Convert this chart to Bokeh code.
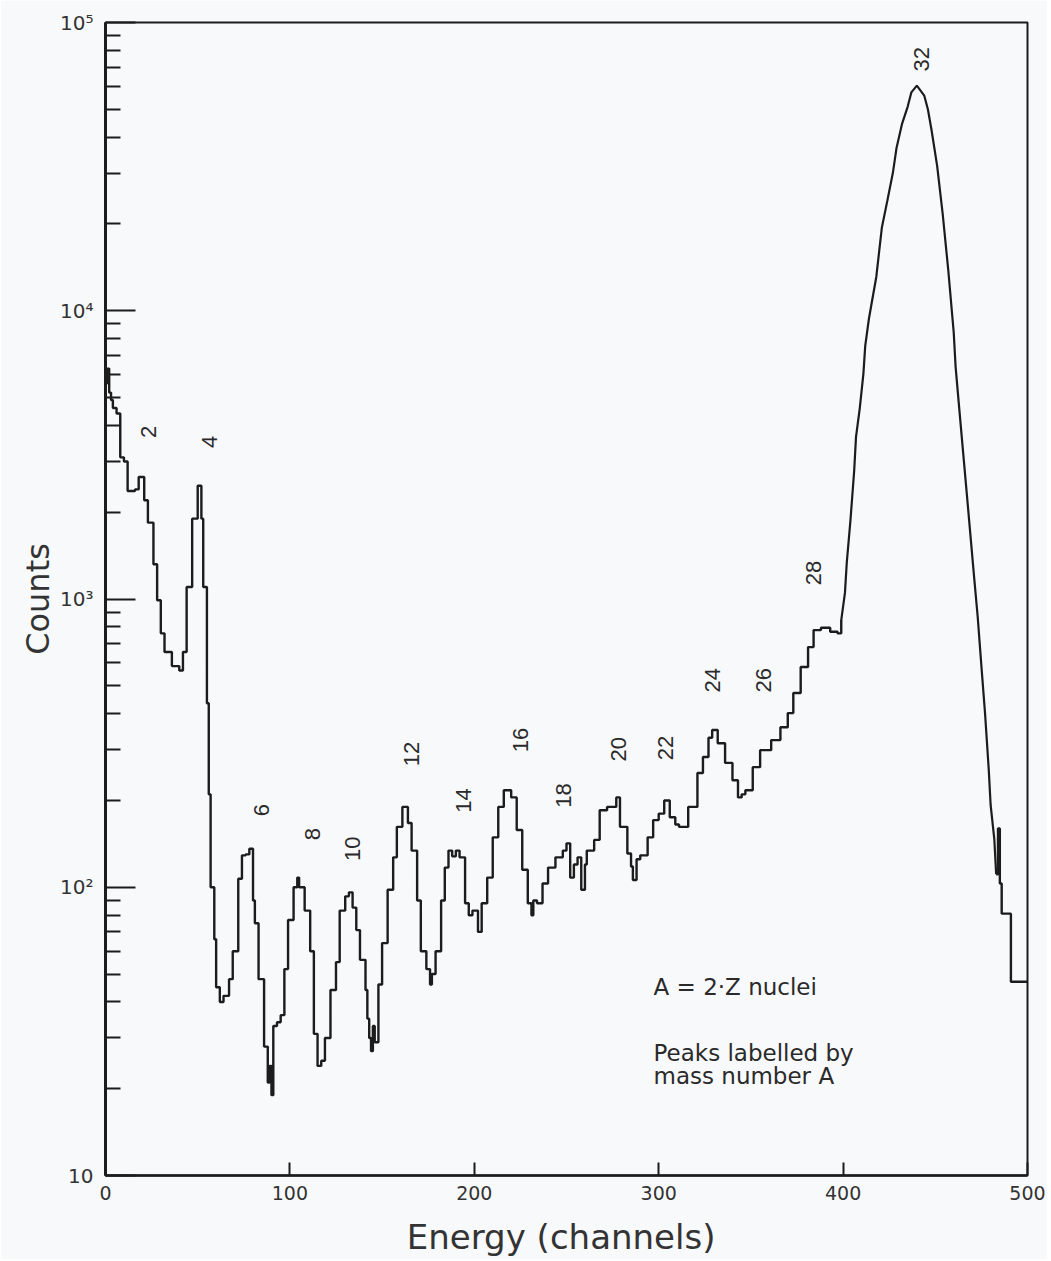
import math
from bokeh.plotting import figure
from bokeh.models import Range1d, FixedTicker, Label, Title
from bokeh.core.properties import value
from bokeh.embed import file_html
from bokeh.resources import INLINE

# ---- spectrum (channel, counts) ----
channels = [0, 1, 2, 3, 4, 6, 8, 10, 12, 16, 18, 21, 23, 26, 28, 30, 32, 36, 40, 42,
            44, 47, 50, 52, 53, 55, 56, 57, 59, 60, 62, 64, 67, 69, 72, 74, 76, 78, 80, 81,
            83, 86, 88, 89, 90, 91, 93, 95, 97, 99, 102, 104, 105, 108, 111, 113, 115, 117, 119, 122,
            125, 127, 130, 132, 134, 136, 138, 141, 142, 143, 144, 145, 146, 148, 150, 153, 156, 158, 161, 164,
            166, 169, 171, 174, 176, 177, 179, 182, 184, 186, 188, 190, 192, 195, 197, 199, 202, 204, 207, 210,
            213, 216, 220, 223, 226, 229, 231, 232, 234, 237, 240, 244, 248, 250, 252, 254, 256, 258, 260, 261,
            265, 268, 272, 277, 279, 283, 285, 286, 288, 290, 294, 297, 300, 303, 306, 309, 311, 316, 321, 324,
            327, 329, 332, 336, 340, 343, 345, 347, 351, 355, 361, 366, 370, 373, 377, 381, 384, 388, 393, 397,
            399, 401, 402, 404, 406, 407, 409, 411, 412, 414, 416, 418, 421, 424, 427, 429, 432, 435, 437, 440,
            444, 446, 448, 451, 454, 457, 460, 461, 463, 465, 467, 469, 471, 473, 475, 477, 479, 480, 482, 483,
            484, 485, 486, 491, 500]
counts = [5600, 6300, 5200, 4900, 4600, 4400, 3100, 3000, 2370, 2400, 2650, 2200, 1840, 1320, 990, 760, 655, 585, 565, 655,
          1100, 1900, 2470, 1900, 1100, 435, 210, 100, 66, 45, 40, 42, 48, 60, 107, 129, 130, 136, 90, 75,
          48, 28, 21, 24, 19, 33, 34, 36, 52, 77, 100, 108, 100, 83, 60, 31, 24, 25, 30, 44,
          55, 83, 93, 96, 85, 71, 56, 44, 35, 30, 27, 33, 29, 46, 64, 98, 127, 162, 190, 167,
          134, 90, 60, 52, 46, 50, 60, 90, 117, 134, 128, 134, 127, 88, 80, 83, 70, 88, 108, 149,
          190, 217, 205, 158, 115, 88, 80, 90, 88, 103, 117, 127, 134, 142, 108, 120, 127, 98, 120, 134,
          146, 185, 190, 205, 162, 131, 118, 106, 125, 129, 149, 171, 180, 200, 175, 165, 162, 190, 249, 283,
          330, 351, 316, 270, 235, 205, 210, 217, 261, 299, 324, 359, 402, 472, 581, 681, 780, 795, 770, 760,
          845, 1050, 1340, 1880, 2780, 3650, 4570, 6040, 7550, 9380, 11100, 13100, 19400, 24100, 30100, 36800, 44600, 51000, 57200, 60400,
          55800, 49900, 42200, 31800, 21700, 13900, 8390, 6400, 4570, 3270, 2350, 1680, 1200, 866, 585, 399, 255, 193, 147, 111,
          160, 103, 81, 47, 47]

# ---- peak labels (mass number A) ----
peak_names = ["2", "4", "6", "8", "10", "12", "14", "16", "18", "20", "22", "24", "26", "28", "32"]
peak_label_ch = [23.3, 56.4, 84.5, 112.0, 134.0, 165.9, 194.1, 225.0, 248.4, 278.1, 303.7, 329.2, 356.9, 384.0, 442.5]
peak_label_counts = [3800, 3510, 185, 153, 136, 290, 200, 324, 208, 301, 304, 523, 523, 1230, 74500]

x_ticks = [0, 100, 200, 300, 400, 500]
y_ticks = [10, 100, 1000, 10000, 100000]
y_tick_labels = ["10", "10²", "10³", "10⁴", "10⁵"]
y_minor = [m * 10 ** k for k in range(1, 5) for m in range(2, 10)]

BG = "#f8f9fb"
INK = "#1c1c1c"
AXIS_FONT = "DejaVu Sans"
TEXT_FONT = "Liberation Sans"

p = figure(frame_width=922, frame_height=1153, y_axis_type="log",
           x_range=Range1d(0, 500), y_range=Range1d(10, 1e5),
           output_backend="svg", toolbar_location=None,
           min_border_left=105, min_border_right=20, min_border_top=22, min_border_bottom=84,
           background_fill_color=BG, border_fill_color=BG)

p.xgrid.visible = False
p.ygrid.visible = False
p.outline_line_color = INK
p.outline_line_width = 2
p.outline_line_alpha = 1.0

# x axis
p.xaxis.ticker = FixedTicker(ticks=x_ticks)
p.xaxis.major_tick_in = 13
p.xaxis.major_tick_out = 0
p.xaxis.minor_tick_in = 0
p.xaxis.minor_tick_out = 0
p.xaxis.major_tick_line_width = 2
p.xaxis.major_tick_line_color = INK
p.xaxis.axis_line_width = 2.5
p.xaxis.axis_line_color = INK
p.xaxis.major_label_text_font = AXIS_FONT
p.xaxis.major_label_text_font_size = "19px"
p.xaxis.major_label_text_color = "#333333"
p.xaxis.major_label_standoff = 10
p.xaxis.axis_label = "Energy  (channels)"
p.xaxis.axis_label_text_font = AXIS_FONT
p.xaxis.axis_label_text_font_size = "34px"
p.xaxis.axis_label_text_font_style = "normal"
p.xaxis.axis_label_text_color = "#333333"
p.xaxis.axis_label_standoff = 14

# y axis
p.yaxis.ticker = FixedTicker(ticks=y_ticks, minor_ticks=y_minor)
p.yaxis.major_label_overrides = {t: s for t, s in zip(y_ticks, y_tick_labels)}
p.yaxis.major_tick_in = 30
p.yaxis.major_tick_out = 0
p.yaxis.minor_tick_in = 15
p.yaxis.minor_tick_out = 0
p.yaxis.major_tick_line_width = 2
p.yaxis.minor_tick_line_width = 2
p.yaxis.major_tick_line_color = INK
p.yaxis.minor_tick_line_color = INK
p.yaxis.axis_line_width = 3
p.yaxis.axis_line_color = INK
p.yaxis.major_label_text_font = AXIS_FONT
p.yaxis.major_label_text_font_size = "20px"
p.yaxis.major_label_text_color = "#333333"
p.yaxis.major_label_standoff = 12

# y title, set a little above the middle as in the original
p.add_layout(Title(text="Counts", align="center", offset=52, text_font=AXIS_FONT,
                   text_font_size="32px", text_font_style="normal",
                   text_color="#333333", standoff=2), "left")

# spectrum: histogram steps in the noisy part, smooth trace over the big A=32 peak
i_a = channels.index(399)
i_b = channels.index(483)
p.step(x=channels[:i_a + 1], y=counts[:i_a + 1], mode="after", line_color=INK, line_width=2.4)
p.line(x=channels[i_a:i_b + 1], y=counts[i_a:i_b + 1], line_color=INK, line_width=2.2)
p.step(x=channels[i_b:], y=counts[i_b:], mode="after", line_color=INK, line_width=2.4)

# peak labels
p.text(x=peak_label_ch, y=peak_label_counts, text=peak_names, angle=math.pi / 2,
       text_font=value(TEXT_FONT), text_font_size="22px", text_color="#2a2a2a",
       text_align="center", text_baseline="middle")

# notes
note_font = "23px"
p.add_layout(Label(x=297.2, y=45, text="A = 2·Z  nuclei", text_font=AXIS_FONT,
                   text_font_size=note_font, text_color="#2a2a2a",
                   text_align="left", text_baseline="middle"))
p.add_layout(Label(x=297.2, y=26.5, text="Peaks labelled by", text_font=AXIS_FONT,
                   text_font_size=note_font, text_color="#2a2a2a",
                   text_align="left", text_baseline="middle"))
p.add_layout(Label(x=297.2, y=22.1, text="mass number A", text_font=AXIS_FONT,
                   text_font_size=note_font, text_color="#2a2a2a",
                   text_align="left", text_baseline="middle"))

open("out.html", "w").write(file_html(p, INLINE))
